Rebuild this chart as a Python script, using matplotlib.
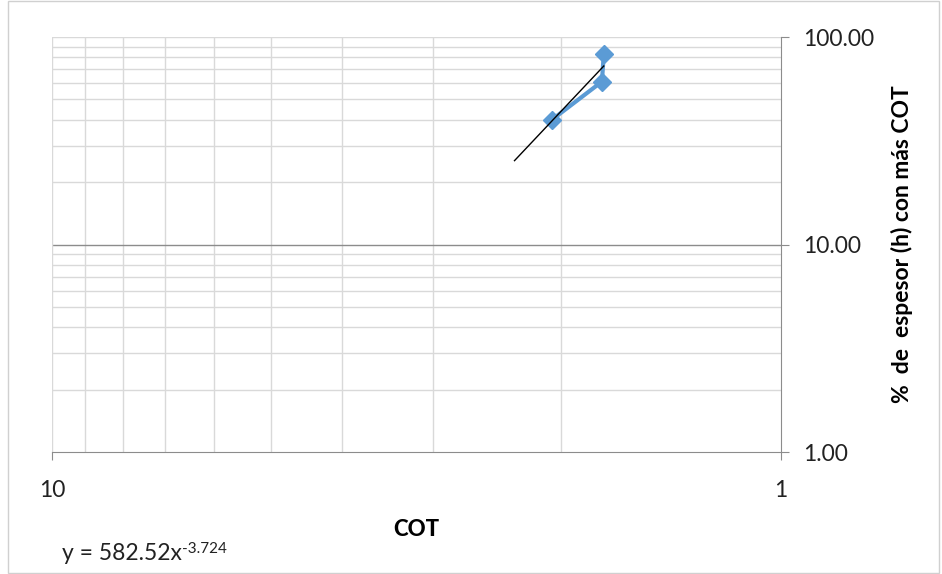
import numpy as np
import matplotlib.pyplot as plt
from matplotlib.ticker import FixedLocator, NullFormatter

plt.rcParams['font.family'] = ['Lato', 'DejaVu Sans']

# data
cot = [2.06, 1.76, 1.75]
espesor = [40.0, 61.0, 83.0]

# power trendline y = a x^b (Excel)
a, b = 582.52, -3.724
trend_x = np.array([2.32, 1.75])

x_major = [1, 10]
x_minor = [2, 3, 4, 5, 6, 7, 8, 9]
y_major = [1, 10, 100]
y_minor = [2, 3, 4, 5, 6, 7, 8, 9, 20, 30, 40, 50, 60, 70, 80, 90]

fig = plt.figure(figsize=(9.42, 5.74), dpi=100)
ax = fig.add_axes([0.0552, 0.2125, 0.7738, 0.723])

ax.set_xscale('log')
ax.set_yscale('log')
ax.set_xlim(10, 1)
ax.set_ylim(1, 100)

# gridlines
for v in x_minor:
    ax.axvline(v, color='#d9d9d9', lw=1, zorder=0)
for v in y_minor:
    ax.axhline(v, color='#d9d9d9', lw=1, zorder=0)
ax.axhline(10, color='#8c8c8c', lw=1, zorder=0)
ax.axhline(100, color='#d9d9d9', lw=1, zorder=0)
ax.axvline(10, color='#d9d9d9', lw=1, zorder=0)

ax.plot(cot, espesor, color='#5b9bd5', lw=3, marker='D', ms=9,
        mfc='#5b9bd5', mec='#5b9bd5', zorder=3)
ax.plot(trend_x, a * trend_x ** b, color='black', lw=1, zorder=4)

for s in ['top', 'left']:
    ax.spines[s].set_visible(False)
ax.spines['bottom'].set_color('#8c8c8c')
ax.spines['right'].set_color('#8c8c8c')

ax.yaxis.tick_right()
ax.xaxis.set_major_locator(FixedLocator(x_major))
ax.xaxis.set_minor_locator(FixedLocator(x_minor))
ax.xaxis.set_minor_formatter(NullFormatter())
ax.set_xticklabels(['1', '10'])
ax.yaxis.set_major_locator(FixedLocator(y_major))
ax.yaxis.set_minor_locator(FixedLocator(y_minor))
ax.yaxis.set_minor_formatter(NullFormatter())
ax.set_yticklabels(['1.00', '10.00', '100.00'])
ax.tick_params(which='major', length=6, color='#8c8c8c', labelsize=16.5,
               labelcolor='#222222', pad=10)
ax.tick_params(axis='x', which='major', pad=14)
ax.tick_params(which='minor', length=0)

ax.set_xlabel('COT', fontsize=16, fontweight=900, labelpad=13)
ax.yaxis.set_label_position('right')
ax.set_ylabel('%  de  espesor (h) con más COT', fontsize=16.5,
              fontweight='bold', labelpad=12)

eq = fig.text(62 / 942, 1 - 553 / 574, 'y = 582.52x', fontsize=16.5,
              color='#222222', va='center')
ax.annotate('-3.724', xy=(1, 0.5), xycoords=eq, xytext=(0, 0),
            textcoords='offset points', fontsize=11, color='#222222',
            va='baseline', ha='left')

fig.patches.append(plt.Rectangle((0.009, 0.002), 0.988, 0.996,
                                 transform=fig.transFigure, fill=False,
                                 edgecolor='#d0d0d0', lw=1))

fig.savefig('out.png', dpi=100)
